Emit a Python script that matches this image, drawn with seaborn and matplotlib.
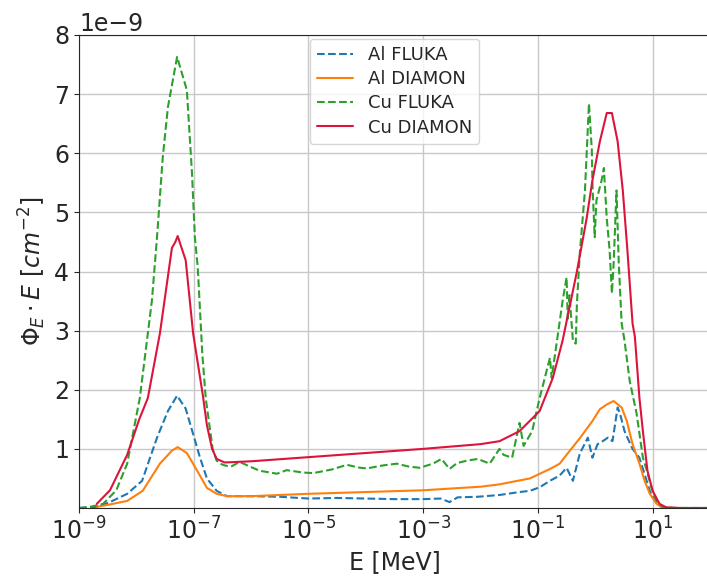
import numpy as np
import pandas as pd
import matplotlib
matplotlib.use("Agg")
import matplotlib.pyplot as plt
import seaborn as sns
from matplotlib.ticker import NullLocator, FixedLocator, LogFormatterMathtext

# ---- data (log10 of energy in MeV, flux*E in units of 1e-9 cm^-2) ----
al_fluka_logE = [-9.0, -8.69, -8.46, -8.16, -7.90, -7.64, -7.45, -7.29, -7.14, -7.01,
                 -6.89, -6.77, -6.60, -6.42, -6.0, -5.5, -5.0, -4.5, -4.0, -3.5,
                 -3.0, -2.7, -2.54, -2.4, -2.05, -1.67, -1.32, -1.14, -0.97, -0.79,
                 -0.62, -0.50, -0.39, -0.27, -0.13, -0.05, 0.04, 0.13, 0.22, 0.30,
                 0.39, 0.43, 0.51, 0.56, 0.65, 0.77, 0.86, 0.95, 1.07, 1.17,
                 1.4, 1.7, 2.0]
al_fluka_val = [0.0, 0.02, 0.1, 0.24, 0.46, 1.19, 1.64, 1.9, 1.68, 1.25,
                0.85, 0.5, 0.29, 0.2, 0.2, 0.19, 0.16, 0.17, 0.16, 0.15,
                0.15, 0.16, 0.1, 0.18, 0.19, 0.22, 0.27, 0.29, 0.35, 0.46,
                0.55, 0.68, 0.46, 0.92, 1.19, 0.85, 1.08, 1.13, 1.19, 1.13,
                1.7, 1.6, 1.3, 1.19, 1.0, 0.85, 0.57, 0.29, 0.08, 0.01,
                0.0, 0.0, 0.0]

al_diamon_logE = [-8.69, -8.46, -8.16, -7.89, -7.59, -7.38, -7.28, -7.12, -6.94, -6.77,
                  -6.60, -6.42, -6.0, -5.0, -4.0, -3.0, -2.0, -1.67, -1.14, -0.79,
                  -0.62, -0.50, -0.27, -0.05, 0.08, 0.20, 0.32, 0.46, 0.55, 0.65,
                  0.77, 0.86, 0.95, 1.07, 1.17, 1.4, 1.7, 2.0]
al_diamon_val = [0.02, 0.06, 0.12, 0.29, 0.75, 0.97, 1.03, 0.93, 0.63, 0.34,
                 0.24, 0.2, 0.2, 0.24, 0.27, 0.3, 0.36, 0.4, 0.5, 0.66,
                 0.75, 0.9, 1.18, 1.47, 1.67, 1.75, 1.81, 1.7, 1.47, 1.08,
                 0.75, 0.46, 0.24, 0.07, 0.01, 0.0, 0.0, 0.0]

cu_fluka_logE = [-9.0, -8.8, -8.58, -8.35, -8.16, -7.94, -7.73, -7.64, -7.54, -7.45,
                 -7.29, -7.12, -7.03, -6.98, -6.93, -6.85, -6.79, -6.67, -6.60, -6.54,
                 -6.46, -6.35, -6.2, -6.02, -5.85, -5.55, -5.38, -5.1, -4.92, -4.6,
                 -4.33, -4.1, -3.98, -3.7, -3.46, -3.25, -3.06, -2.83, -2.68, -2.54,
                 -2.41, -2.24, -2.05, -1.84, -1.67, -1.6, -1.45, -1.32, -1.25, -1.1,
                 -0.97, -0.79, -0.76, -0.65, -0.57, -0.50, -0.48, -0.45, -0.39, -0.34,
                 -0.32, -0.27, -0.18, -0.11, -0.06, -0.05, -0.01, 0.02, 0.11, 0.15,
                 0.20, 0.25, 0.29, 0.32, 0.37, 0.41, 0.46, 0.51, 0.60, 0.72,
                 0.83, 0.90, 0.98, 1.07, 1.17, 1.3, 1.6, 2.0]
cu_fluka_val = [0.0, 0.02, 0.07, 0.3, 0.75, 1.86, 3.5, 4.58, 5.93, 6.78,
                7.63, 7.07, 5.66, 4.58, 4.07, 2.6, 1.85, 1.0, 0.8, 0.75,
                0.72, 0.7, 0.78, 0.7, 0.63, 0.58, 0.64, 0.6, 0.59, 0.65,
                0.73, 0.68, 0.67, 0.72, 0.75, 0.7, 0.68, 0.75, 0.83, 0.66,
                0.76, 0.8, 0.83, 0.75, 1.0, 0.9, 0.85, 1.44, 1.05, 1.3,
                1.86, 2.54, 2.2, 2.95, 3.5, 3.9, 3.2, 3.6, 2.83, 2.78,
                3.46, 4.3, 5.37, 6.84, 6.05, 5.49, 4.58, 5.2, 5.54, 5.75,
                4.9, 4.36, 3.63, 4.13, 5.37, 4.13, 3.12, 2.83, 2.15, 1.6,
                0.85, 0.63, 0.34, 0.12, 0.02, 0.0, 0.0, 0.0]

cu_diamon_logE = [-8.69, -8.46, -8.16, -7.95, -7.80, -7.59, -7.38, -7.32, -7.28, -7.14,
                  -7.01, -6.84, -6.77, -6.68, -6.60, -6.46, -6.0, -5.0, -4.0, -3.0,
                  -2.0, -1.67, -1.32, -0.97, -0.74, -0.57, -0.45, -0.32, -0.15, -0.05,
                  0.08, 0.20, 0.29, 0.39, 0.48, 0.56, 0.65, 0.69, 0.77, 0.83,
                  0.91, 1.0, 1.12, 1.24, 1.5, 1.8, 2.0]
cu_diamon_val = [0.07, 0.3, 0.9, 1.5, 1.86, 2.95, 4.4, 4.5, 4.6, 4.19,
                 2.95, 1.9, 1.4, 1.0, 0.83, 0.77, 0.79, 0.86, 0.93, 1.0,
                 1.08, 1.13, 1.3, 1.64, 2.2, 2.83, 3.39, 4.0, 4.9, 5.54,
                 6.2, 6.68, 6.68, 6.2, 5.37, 4.36, 3.12, 2.9, 1.86, 1.3,
                 0.63, 0.29, 0.07, 0.01, 0.0, 0.0, 0.0]

series_names = ["Al FLUKA", "Al DIAMON", "Cu FLUKA", "Cu DIAMON"]
series_colors = ["#1f77b4", "#ff7f0e", "#2ca02c", "#dc143c"]
series_styles = ["--", "-", "--", "-"]
xtick_exps = [-9, -7, -5, -3, -1, 1]
ytick_vals = [1, 2, 3, 4, 5, 6, 7, 8]

# ---- plotting ----
sns.set_style("ticks")
plt.rcParams["font.family"] = ["DejaVu Sans"]

fig = plt.figure(figsize=(7.07, 5.76), dpi=100)
ax = fig.add_axes([79 / 707, 1 - 508 / 576, (710 - 79) / 707, (508 - 35) / 576])

data = [(al_fluka_logE, al_fluka_val), (al_diamon_logE, al_diamon_val),
        (cu_fluka_logE, cu_fluka_val), (cu_diamon_logE, cu_diamon_val)]
for (lx, vy), name, col, ls in zip(data, series_names, series_colors, series_styles):
    df = pd.DataFrame({"E": 10.0 ** np.array(lx), "phi": np.array(vy) * 1e-9})
    sns.lineplot(data=df, x="E", y="phi", ax=ax, color=col, linestyle=ls,
                 linewidth=1.5, label=name, sort=False, estimator=None)

ax.set_xscale("log")
ax.set_xlim(1e-9, 1e2)
ax.set_ylim(0, 8e-9)
ax.xaxis.set_major_locator(FixedLocator([10.0 ** e for e in xtick_exps]))
ax.xaxis.set_major_formatter(LogFormatterMathtext())
ax.xaxis.set_minor_locator(NullLocator())
ax.set_yticks([v * 1e-9 for v in ytick_vals])
ax.ticklabel_format(axis="y", style="sci", scilimits=(0, 0))
ax.yaxis.get_offset_text().set_fontsize(17)
ax.tick_params(axis="both", labelsize=17)
ax.grid(True, color="#c8c8c8", linewidth=1.0)
ax.set_axisbelow(True)
ax.set_xlabel("E [MeV]", fontsize=17)
ax.set_ylabel(r"$\Phi_E \cdot E\ [cm^{-2}]$", fontsize=17)

leg = ax.legend(loc="upper center", fontsize=13, borderaxespad=0.2,
                labelspacing=0.35, frameon=True)

fig.savefig("out.png", dpi=100)
